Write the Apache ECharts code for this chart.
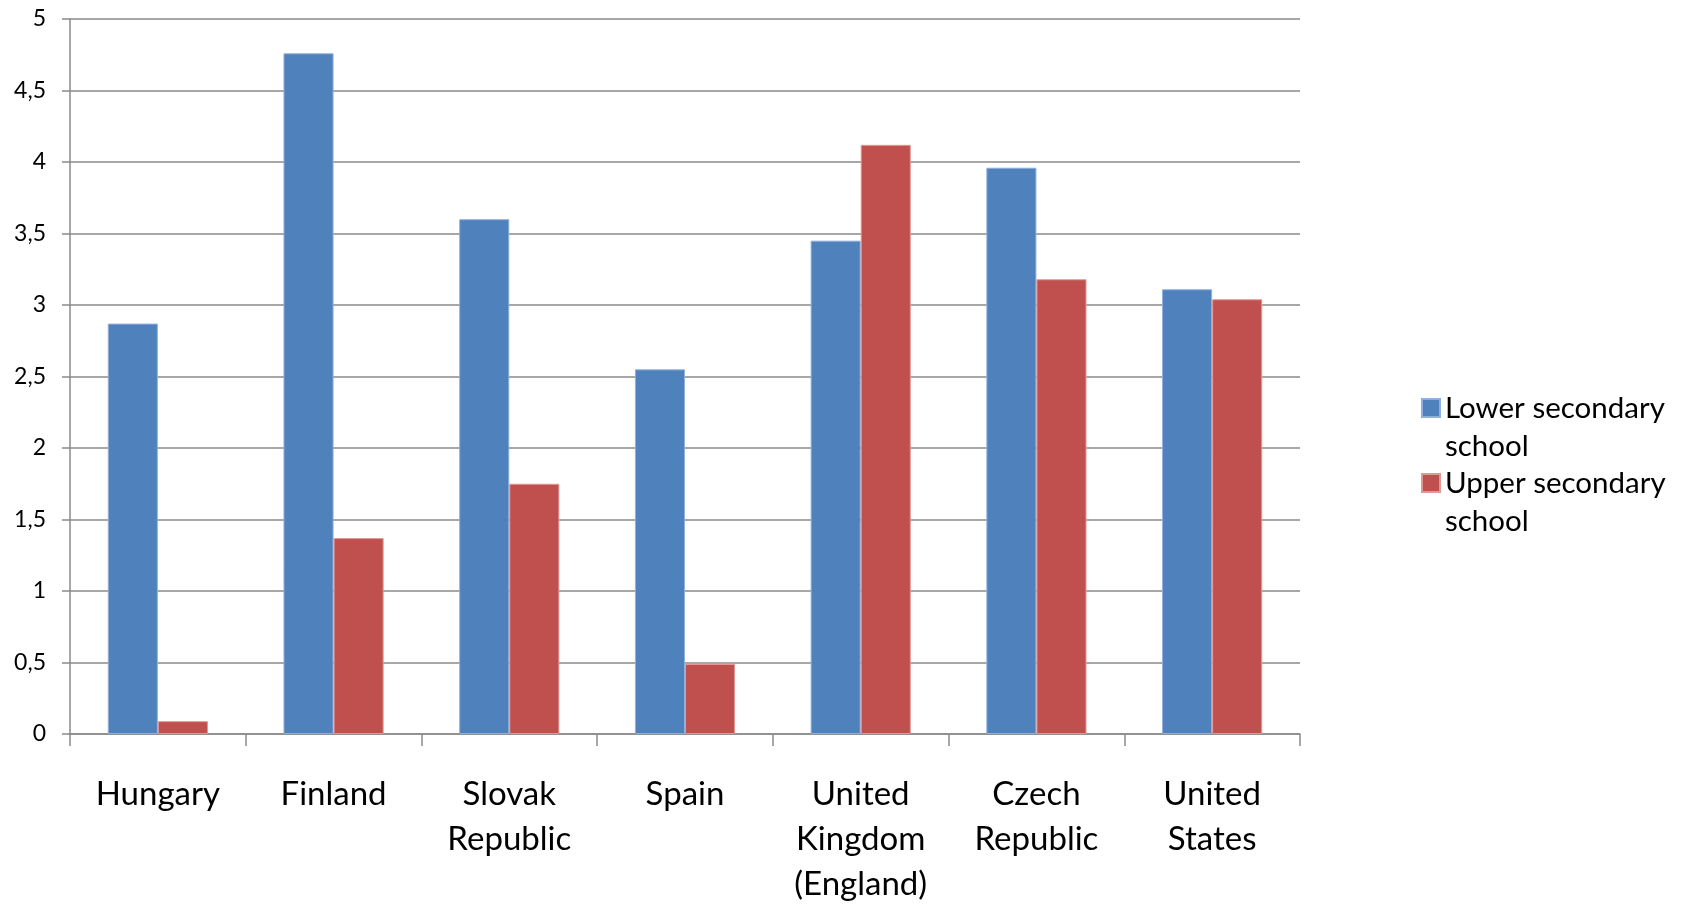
<!DOCTYPE html>
<html>
<head>
<meta charset="utf-8">
<script src="https://cdn.jsdelivr.net/npm/echarts@6/dist/echarts.min.js"></script>
<style>
html,body{margin:0;padding:0;background:#fff;}
#chart{width:1685px;height:907px;}
</style>
</head>
<body>
<div id="chart"></div>
<script>
const categories = ['Hungary', 'Finland', 'Slovak\nRepublic', 'Spain', 'United\nKingdom\n(England)', 'Czech\nRepublic', 'United\nStates'];
const seriesNames = ['Lower secondary school', 'Upper secondary school'];
const legendLabels = ['Lower secondary\nschool', 'Upper secondary\nschool'];
const lowerSecondary = [2.87, 4.76, 3.60, 2.55, 3.45, 3.96, 3.11];
const upperSecondary = [0.09, 1.37, 1.75, 0.49, 4.12, 3.18, 3.04];
const yTicks = { min: 0, max: 5, interval: 0.5 };

const FONT = 'Lato';
const gridColor = '#8a8a8a';

const chart = echarts.init(document.getElementById('chart'), null, { renderer: 'canvas' });

function legendFor(i, top) {
  return {
    data: [seriesNames[i]],
    orient: 'vertical',
    left: 1416,
    top: top,
    itemWidth: 18,
    itemHeight: 18,
    itemGap: 0,
    icon: 'rect',
    // leading blank line keeps the first text line centred on the marker
    formatter: function () { return ' \n' + legendLabels[i]; },
    textStyle: {
      fontFamily: FONT,
      fontSize: 29.5,
      color: '#000',
      lineHeight: 38
    },
    selectedMode: false
  };
}

chart.setOption({
  animation: false,
  backgroundColor: '#fff',
  grid: { left: 70, right: 385, top: 19, bottom: 168, containLabel: false },
  legend: [legendFor(0, 346), legendFor(1, 421)],
  xAxis: {
    type: 'category',
    data: categories,
    axisLine: { show: true, lineStyle: { color: gridColor, width: 1.5 } },
    axisTick: { show: true, length: 12, lineStyle: { color: gridColor, width: 1.5 } },
    axisLabel: {
      interval: 0,
      fontFamily: FONT,
      fontSize: 33,
      color: '#000',
      lineHeight: 45,
      margin: 38,
      verticalAlign: 'top'
    },
    splitLine: { show: false }
  },
  yAxis: {
    type: 'value',
    min: yTicks.min,
    max: yTicks.max,
    interval: yTicks.interval,
    axisLine: { show: true, lineStyle: { color: gridColor, width: 1.5 } },
    axisTick: { show: true, length: 8, lineStyle: { color: gridColor, width: 1.5 } },
    axisLabel: {
      fontFamily: FONT,
      fontSize: 23,
      color: '#000',
      margin: 24,
      formatter: function (v) { return String(v).replace('.', ','); }
    },
    splitLine: { show: true, lineStyle: { color: gridColor, width: 1.5 } }
  },
  series: [
    {
      name: seriesNames[0],
      type: 'bar',
      data: lowerSecondary,
      barGap: '0%',
      barCategoryGap: '43%',
      itemStyle: { color: '#4F81BD', borderColor: '#8fb0dc', borderWidth: 1 }
    },
    {
      name: seriesNames[1],
      type: 'bar',
      data: upperSecondary,
      barGap: '0%',
      barCategoryGap: '43%',
      itemStyle: { color: '#C0504D', borderColor: '#e09896', borderWidth: 1 }
    }
  ]
});
</script>
</body>
</html>
